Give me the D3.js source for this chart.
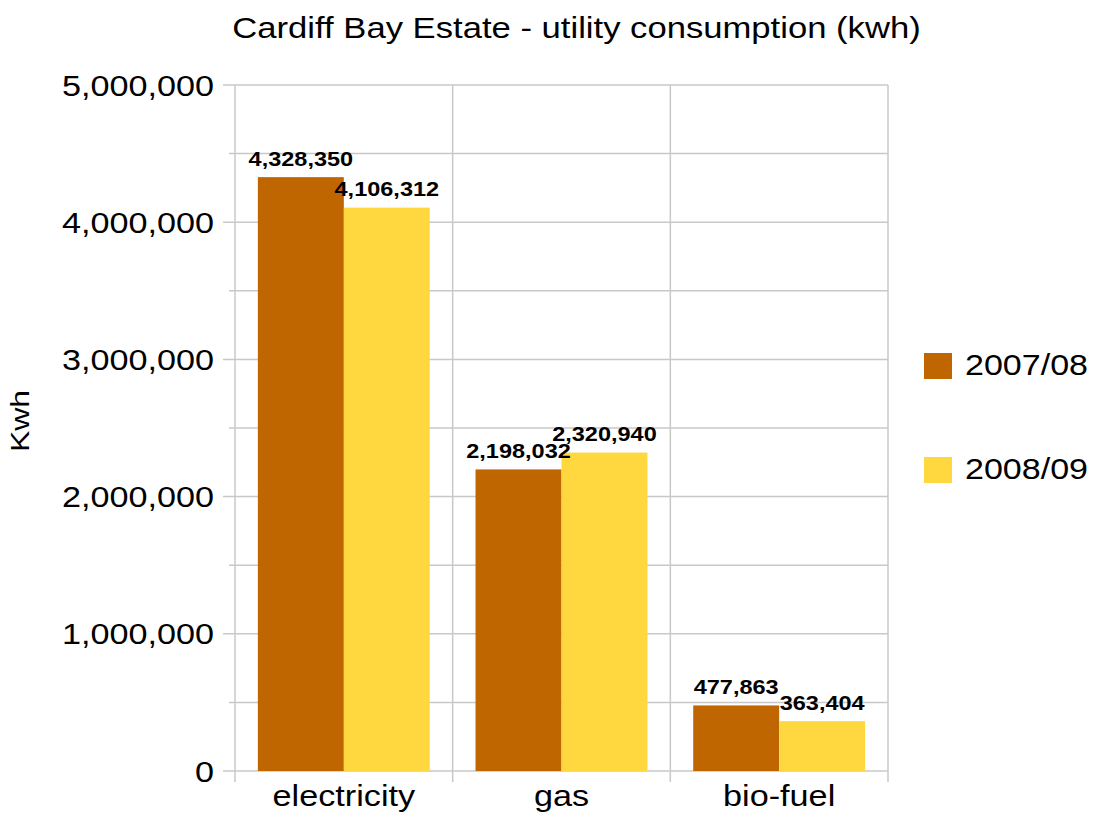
<!DOCTYPE html>
<html><head><meta charset="utf-8">
<script src="https://cdn.jsdelivr.net/npm/d3@7"></script>
<style>body{margin:0;background:#fff}svg{display:block;font-family:"Liberation Sans",Arial,sans-serif}</style>
</head><body><svg id="c" width="1097" height="814"></svg>
<script>
const categories = ["electricity", "gas", "bio-fuel"];
const seriesNames = ["2007/08", "2008/09"];
const values2007 = [4328350, 2198032, 477863];
const values2008 = [4106312, 2320940, 363404];
const yTicks = [0, 1000000, 2000000, 3000000, 4000000, 5000000];
const colors = ["#bf6600", "#ffd83f"];

const svg = d3.select("#c");
const L = 235, R = 888, T = 85, B = 771;
const x = d3.scaleBand().domain(categories).range([L, R]).paddingInner(0).paddingOuter(0);
const x1 = d3.scaleBand().domain(seriesNames).range([0, x.bandwidth()]).paddingInner(0).paddingOuter(0.266);
const y = d3.scaleLinear().domain([0, 5000000]).range([B, T]);
const fmt = d3.format(",");
const grid = "#c8c8c8";

// horizontal gridlines every 500k
const minor = d3.range(0, 5000001, 500000);
svg.append("g").selectAll("line").data(minor).join("line")
  .attr("x1", d => d % 1000000 === 0 ? L - 12 : L - 6).attr("x2", R)
  .attr("y1", d => y(d)).attr("y2", d => y(d))
  .attr("stroke", grid).attr("stroke-width", 1.5);
// vertical gridlines at category boundaries
const bounds = categories.map(c => x(c)).concat([R]);
svg.append("g").selectAll("line").data(bounds).join("line")
  .attr("x1", d => d).attr("x2", d => d).attr("y1", T).attr("y2", B + 11)
  .attr("stroke", grid).attr("stroke-width", 1.5);

// bars
const series = [values2007, values2008];
series.forEach((vals, si) => {
  svg.append("g").selectAll("rect").data(categories).join("rect")
    .attr("x", c => x(c) + x1(seriesNames[si]))
    .attr("width", x1.bandwidth())
    .attr("y", (c, i) => y(vals[i]))
    .attr("height", (c, i) => B - y(vals[i]))
    .attr("fill", colors[si]);
});
series.forEach((vals, si) => {
  svg.append("g").selectAll("text").data(categories).join("text")
    .attr("transform", (c, i) => `translate(${x(c) + x1(seriesNames[si]) + x1.bandwidth() / 2},${y(vals[i]) - 11.5}) scale(1.12,1)`)
    .attr("text-anchor", "middle").attr("font-size", 21).attr("font-weight", "bold")
    .text((c, i) => fmt(vals[i]));
});

// y tick labels
svg.append("g").selectAll("text").data(yTicks).join("text")
  .attr("transform", d => `translate(214,${y(d) + 10.5}) scale(1.14,1)`).attr("text-anchor", "end")
  .attr("font-size", 30).text(d => fmt(d));
// x labels
svg.append("g").selectAll("text").data(categories).join("text")
  .attr("transform", c => `translate(${x(c) + x.bandwidth() / 2},806) scale(1.14,1)`).attr("text-anchor", "middle")
  .attr("font-size", 30).text(c => c);

// title
svg.append("text").attr("transform", "translate(576.5,38) scale(1.155,1)").attr("text-anchor", "middle")
  .attr("font-size", 30).text("Cardiff Bay Estate - utility consumption (kwh)");
// y title
svg.append("text").attr("transform", "translate(29,421) rotate(-90) scale(1.23,1)").attr("text-anchor", "middle")
  .attr("font-size", 26).text("Kwh");

// legend
const lg = svg.append("g").selectAll("g").data(seriesNames).join("g")
  .attr("transform", (d, i) => `translate(924,${353 + i * 104})`);
lg.append("rect").attr("width", 28).attr("height", 26).attr("fill", (d, i) => colors[i]);
lg.append("text").attr("transform", "translate(41,22) scale(1.135,1)").attr("font-size", 30).text(d => d);
</script></body></html>
